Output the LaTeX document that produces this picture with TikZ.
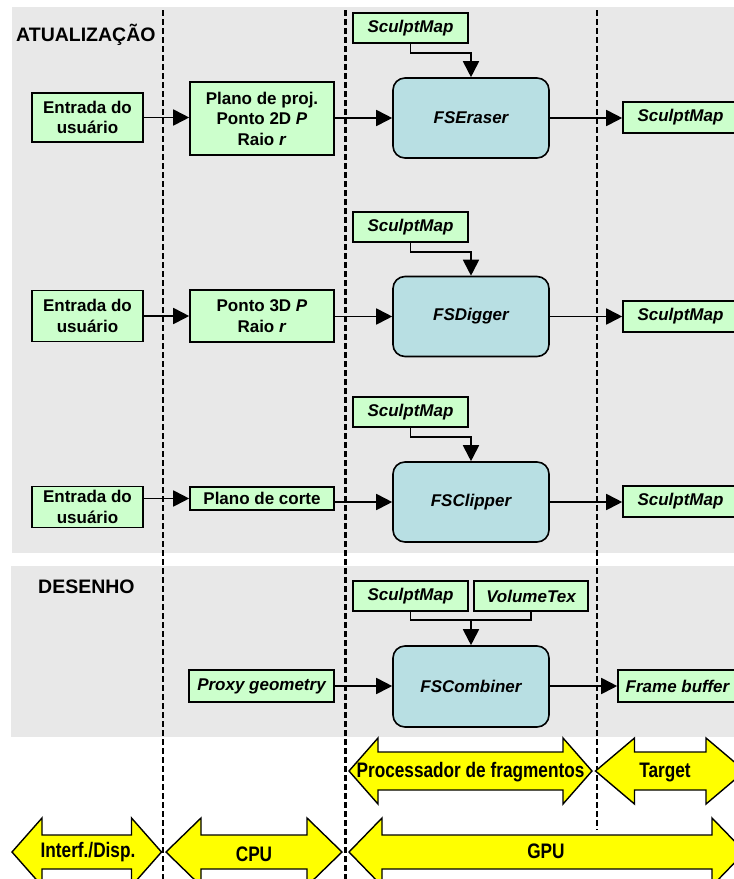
\documentclass[tikz,border=0pt]{standalone}
\usepackage{fontspec}
\setmainfont{Liberation Sans}
\newfontfamily\narrowfont[FakeStretch=0.82]{Liberation Sans}
\usetikzlibrary{arrows.meta}
\definecolor{panelgray}{HTML}{E8E8E8}
\definecolor{boxgreen}{HTML}{CCFFCC}
\definecolor{boxblue}{HTML}{B8DFE3}
\definecolor{arrowyellow}{HTML}{FFFF00}
\newcommand{\yellowarrow}[6]{%
  \draw[yarrow] (#1,#3) -- ++(#4,-#5) -- ++(0,#5-#6) -- ({#2-#4},{#3-#6}) -- ++(0,#6-#5)
    -- (#2,#3) -- ++(-#4,#5) -- ++(0,#6-#5) -- ({#1+#4},{#3+#6}) -- ++(0,#5-#6) -- cycle;}
\begin{document}
\begin{tikzpicture}[x=1pt,y=-1pt,
  gbox/.style={draw,line width=1.6pt,fill=boxgreen,font=\fontsize{17}{20.5}\selectfont\bfseries,align=center,inner sep=0pt},
  gitbox/.style={gbox,font=\fontsize{17}{20.5}\selectfont\bfseries\itshape},
  fsbox/.style={draw,line width=1.6pt,fill=boxblue,rounded corners=12pt,font=\fontsize{17}{20}\selectfont\bfseries\itshape,minimum width=156pt,minimum height=80pt,inner sep=0pt},
  conn/.style={line width=1.8pt,-{Triangle[length=16pt,width=16pt]}},
  plain/.style={line width=1.8pt},
  divider/.style={line width=2.4pt,dash pattern=on 6pt off 3pt},
  yarrow/.style={fill=arrowyellow,draw,line width=1.4pt,line join=miter},
  ylabel/.style={font=\fontsize{21}{24}\selectfont\narrowfont\bfseries,inner sep=0pt},
  heading/.style={font=\fontsize{19.5}{22}\selectfont\bfseries,anchor=west,inner sep=0pt}
]
\useasboundingbox (0,0) rectangle (734,879);
% panels
\fill[panelgray] (12,7) rectangle (734,553);
\fill[panelgray] (11,566) rectangle (734,737);
% dividers
\draw[divider] (163,10) -- (163,879);
\draw[divider] (345.5,10) -- (345.5,879);
\draw[divider] (597,10) -- (597,830);
% headings
\node[heading] (hA) at (16,35) {ATUALIZAÇÃO};
\node[heading] (hD) at (38,587) {DESENHO};

% Row 1
\node[gbox,minimum width=111pt,minimum height=49pt] (e1) at (87.5,117.5) {Entrada do\\usuário};
\node[gbox,minimum width=144pt,minimum height=73pt] (p1) at (262,118.5) {Plano de proj.\\Ponto 2D \textit{P}\\Raio \textit{r}};
\node[gitbox,minimum width=115pt,minimum height=30pt] (s1) at (410.5,28) {SculptMap};
\node[fsbox] (f1) at (471,118) {FSEraser};
\node[gitbox,minimum width=115pt,minimum height=31pt] (o1) at (680.5,117.5) {SculptMap};

% Row 2
\node[gbox,minimum width=111pt,minimum height=51pt] (e2) at (87.5,316) {Entrada do\\usuário};
\node[gbox,minimum width=144pt,minimum height=52pt] (p2) at (262,316) {Ponto 3D \textit{P}\\Raio \textit{r}};
\node[gitbox,minimum width=115pt,minimum height=30pt] (s2) at (410.5,227) {SculptMap};
\node[fsbox] (f2) at (471,316.5) {FSDigger};
\node[gitbox,minimum width=115pt,minimum height=31pt] (o2) at (680.5,316.5) {SculptMap};

% Row 3
\node[gbox,minimum width=111pt,minimum height=41pt] (e3) at (87.5,507) {Entrada do\\usuário};
\node[gbox,minimum width=144pt,minimum height=23pt] (p3) at (262,498.5) {Plano de corte};
\node[gitbox,minimum width=115pt,minimum height=30pt] (s3) at (410.5,412) {SculptMap};
\node[fsbox] (f3) at (471,502) {FSClipper};
\node[gitbox,minimum width=115pt,minimum height=31pt] (o3) at (680.5,501.5) {SculptMap};

% Desenho
\node[gitbox,minimum width=115pt,minimum height=30pt] (sd) at (410.5,596) {SculptMap};
\node[gitbox,minimum width=114pt,minimum height=30pt] (vt) at (531,596) {VolumeTex};
\node[fsbox,minimum height=81pt] (fc) at (471,686.5) {FSCombiner};
\node[gitbox,minimum width=145pt,minimum height=32pt] (pg) at (261.5,686) {Proxy geometry};
\node[gitbox,minimum width=119pt,minimum height=32pt] (fb) at (677.5,686) {Frame buffer};

% connectors row 1
\draw[conn] (e1.east) -- (e1.east -| p1.west);
\draw[conn] (p1.east |- f1.west) -- (f1.west);
\draw[conn] (s1.south) -- ++(0,9) -| (f1.north);
\draw[conn] (f1.east) -- (f1.east -| o1.west);
% row 2
\draw[conn] (e2.east) -- (e2.east -| p2.west);
\draw[conn] (p2.east |- f2.west) -- (f2.west);
\draw[conn] (s2.south) -- ++(0,9) -| (f2.north);
\draw[conn] (f2.east) -- (f2.east -| o2.west);
% row 3
\draw[conn] (e3.east |- p3.west) -- (p3.west);
\draw[conn] (p3.east |- f3.west) -- (f3.west);
\draw[conn] (s3.south) -- ++(0,9) -| (f3.north);
\draw[conn] (f3.east) -- (f3.east -| o3.west);
% desenho
\path (sd.south) ++(0,8) coordinate (jy);
\coordinate (j) at (fc.north |- jy);
\draw[plain] (sd.south) |- (j) -| (vt.south);
\draw[conn] (j) -- (fc.north);
\draw[conn] (pg.east) -- (pg.east -| fc.west);
\draw[conn] (fc.east |- fb.west) -- (fb.west);

% yellow arrows
\yellowarrow{349}{592}{771}{29}{33}{19}
\node[ylabel] (lpf) at (470.5,772) {Processador de fragmentos};
\yellowarrow{595.5}{745}{771}{39}{33}{19}
\node[ylabel] (ltg) at (665,772) {Target};
\yellowarrow{12}{161.5}{852}{30}{34}{17}
\node[ylabel] (lid) at (88,852) {Interf./Disp.};
\yellowarrow{166}{342}{852}{35}{34}{17}
\node[ylabel] (lcpu) at (254,854) {CPU};
\yellowarrow{349}{745}{852}{33}{34}{17}
\node[ylabel] (lgpu) at (546,851) {GPU};
\end{tikzpicture}
\end{document}
